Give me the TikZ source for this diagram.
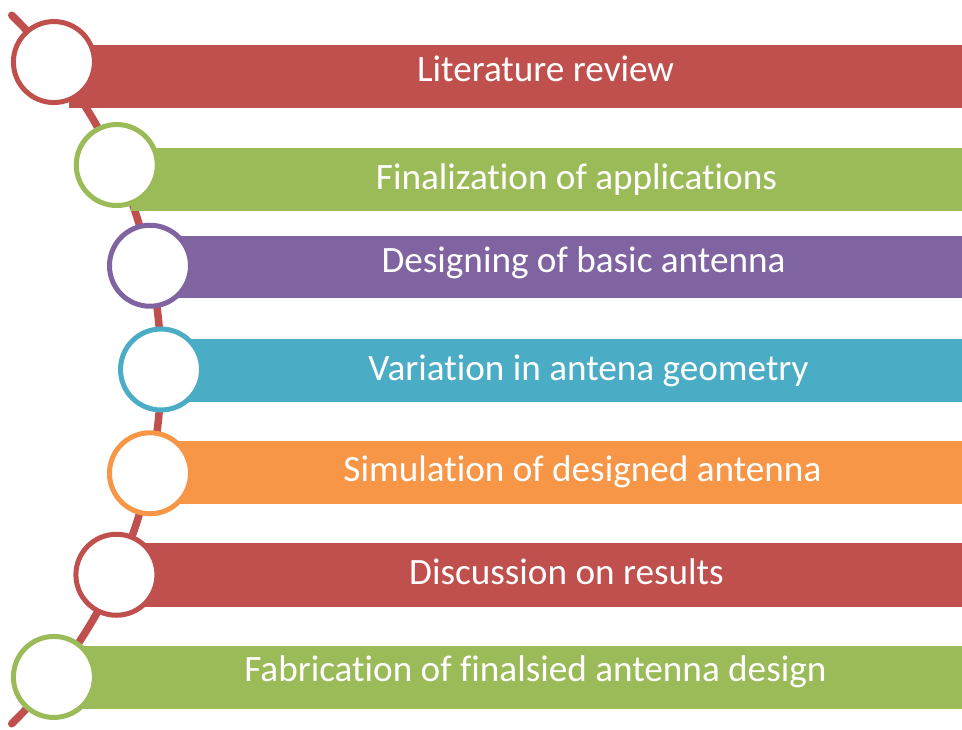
\documentclass[tikz,border=0pt]{standalone}
\usepackage{fontspec}
\setmainfont{Carlito}[Ligatures=NoCommon]
\definecolor{rosso}{HTML}{C0504D}
\definecolor{verde}{HTML}{9BBB59}
\definecolor{viola}{HTML}{8064A2}
\definecolor{azzurro}{HTML}{4BACC6}
\definecolor{arancio}{HTML}{F79646}
\tikzset{
  spina/.style={rosso, line width=7.5pt, line cap=round},
  tappa/.style={circle, fill=white, line width=5pt, minimum size=81pt, inner sep=0pt},
  etichetta/.style={text=white, anchor=base, inner sep=0pt, font=\fontsize{37.2}{44}\selectfont}
}
\begin{document}
\begin{tikzpicture}[x=1pt, y=-1pt]
            \useasboundingbox (0,0) rectangle (962,730);
            % Linea curva dietro le tappe
            \coordinate (centro) at (-334,369.5);
            \path (centro) ++(-45.7:495) coordinate (inizio);
            \draw[spina] (inizio) arc[start angle=-45.7, end angle=45.7, radius=495];

            % Barre colorate
            \foreach \col/\sx/\top/\bot in {rosso/69/45/108, verde/131/148/211, viola/165/236/298, azzurro/176/339/402, arancio/165/441/504, rosso/131/543/607, verde/69/646/709}
                \fill[\col] (\sx,\top) rectangle (962,\bot);

            % Cerchi sulla linea
            \foreach \i/\ang/\col in {1/-38.4/rosso, 2/-24.4/verde, 3/-12.1/viola, 4/0/azzurro, 5/12.1/arancio, 6/24.5/rosso, 7/38.4/verde}
                \path (centro) ++(\ang:495) node[tappa, draw=\col] (c\i) {};

            % Testi
            \foreach \i/\tx/\base/\testo in {1/545.5/82/Literature review, 2/576.5/190/Finalization of applications, 3/583.5/273/Designing of basic antenna, 4/588.5/380/Variation in antena geometry, 5/582.5/481/Simulation of designed antenna, 6/566.5/584/Discussion on results, 7/535.5/681/Fabrication of finalsied antenna design}
                \node[etichetta] (t\i) at (\tx,\base) {\testo};
        \end{tikzpicture}
\end{document}
